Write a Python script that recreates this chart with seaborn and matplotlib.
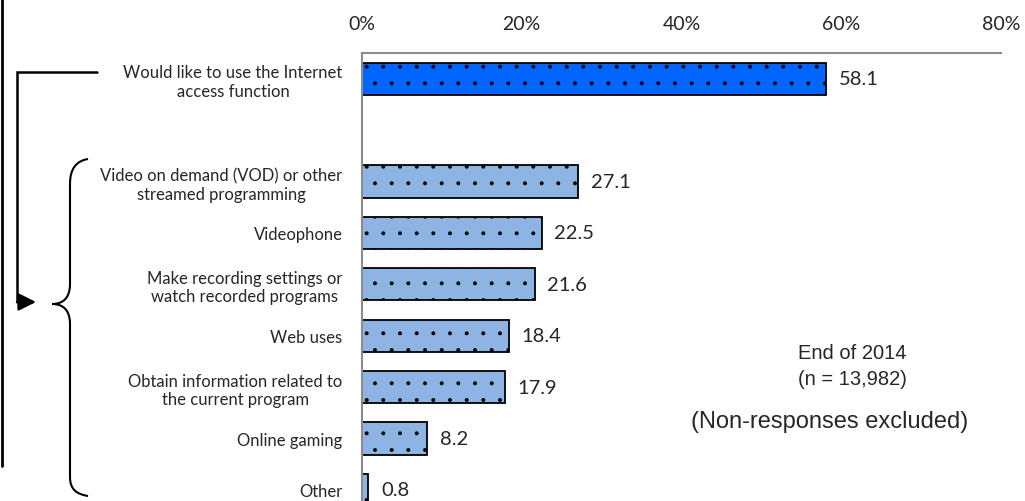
import matplotlib
matplotlib.use("Agg")
import matplotlib.pyplot as plt
import seaborn as sns
import pandas as pd
from matplotlib.path import Path
from matplotlib.patches import PathPatch, FancyArrowPatch

categories = [
    "Would like to use the Internet\naccess function",
    "Video on demand (VOD) or other\nstreamed programming",
    "Videophone",
    "Make recording settings or\nwatch recorded programs",
    "Web uses",
    "Obtain information related to\nthe current program",
    "Online gaming",
    "Other",
]
values = [58.1, 27.1, 22.5, 21.6, 18.4, 17.9, 8.2, 0.8]
bar_colors = ["#0066FF"] + ["#8DB4E2"] * 7
x_ticks = [0, 20, 40, 60, 80]
x_tick_labels = ["0%", "20%", "40%", "60%", "80%"]
note_lines = ["End of 2014", "(n = 13,982)"]
note_2 = "(Non-responses excluded)"

sns.set_theme(style="white")
plt.rcParams["font.family"] = ["Lato", "DejaVu Sans"]
plt.rcParams["hatch.linewidth"] = 0.4
plt.rcParams["hatch.color"] = "black"

W, H = 1025, 502
fig = plt.figure(figsize=(W / 100, H / 100), dpi=100)

# axes placement in pixels
left_px, right_px, top_px = 362, 1001, 54
unit = 51.4
ymin_v, ymax_v = -0.5, 8.6
bottom_px = top_px + (ymax_v - ymin_v) * unit
ax = fig.add_axes([left_px / W, 1 - bottom_px / H, (right_px - left_px) / W, (bottom_px - top_px) / H])

blank = " "
order = [categories[0], blank] + categories[1:]
df = pd.DataFrame({"label": categories, "value": values})

sns.barplot(data=df, x="value", y="label", order=order, hue="label",
            hue_order=categories, palette=dict(zip(categories, bar_colors)),
            legend=False, orient="h", width=0.63, edgecolor="black",
            linewidth=1.3, saturation=1, ax=ax)

for p in ax.patches:
    p.set_hatch(".")

for c in ax.containers:
    ax.bar_label(c, fmt="%.1f", padding=9, fontsize=14.5)

ax.set_xlim(0, 80)
ax.set_ylim(ymax_v, ymin_v)
ax.set_xticks(x_ticks)
ax.set_xticklabels(x_tick_labels, fontsize=14)
ax.xaxis.tick_top()
ax.tick_params(axis="x", length=0, pad=15)
ax.tick_params(axis="y", length=0, pad=14)
ax.set_yticks(range(len(order)))
ax.set_yticklabels(order, fontsize=12, ha="right", multialignment="center",
                   linespacing=1.2)
ax.set_xlabel("")
ax.set_ylabel("")
for s in ["right", "bottom"]:
    ax.spines[s].set_visible(False)
for s in ["left", "top"]:
    ax.spines[s].set_color("#8C8C8C")
    ax.spines[s].set_linewidth(1.5)

# annotations (pixel overlay)
ov = fig.add_axes([0, 0, 1, 1], facecolor="none")
ov.set_xlim(0, W)
ov.set_ylim(H, 0)
ov.axis("off")

ov.text(852, 354, note_lines[0], ha="center", va="center", fontsize=14.5, family="Liberation Sans")
ov.text(852, 380, note_lines[1], ha="center", va="center", fontsize=14.5, family="Liberation Sans")
ov.text(830, 422, note_2, ha="center", va="center", fontsize=17, family="Liberation Sans")

# left border line
ov.plot([1.5, 1.5], [0, 467], color="black", lw=2)
# elbow connector with arrow
ov.plot([97, 17, 17], [73, 73, 303], color="black", lw=1.8, solid_joinstyle="miter")
ov.add_patch(FancyArrowPatch((17, 303), (36, 303), arrowstyle="-|>,head_length=7,head_width=3.5",
                             color="black", lw=1.8, mutation_scale=1.5, shrinkA=0, shrinkB=0))
# curly brace
verts = [
    (88, 160), (76, 162), (70, 170), (70, 185),
    (70, 285),
    (70, 298), (64, 305), (52, 305),
    (64, 305), (70, 312), (70, 325),
    (70, 478),
    (70, 490), (76, 495), (88, 497),
]
codes = [Path.MOVETO, Path.CURVE4, Path.CURVE4, Path.CURVE4,
         Path.LINETO,
         Path.CURVE4, Path.CURVE4, Path.CURVE4,
         Path.CURVE4, Path.CURVE4, Path.CURVE4,
         Path.LINETO,
         Path.CURVE4, Path.CURVE4, Path.CURVE4]
ov.add_patch(PathPatch(Path(verts, codes), facecolor="none", edgecolor="black", lw=1.5))

fig.savefig("out.png", dpi=100)
